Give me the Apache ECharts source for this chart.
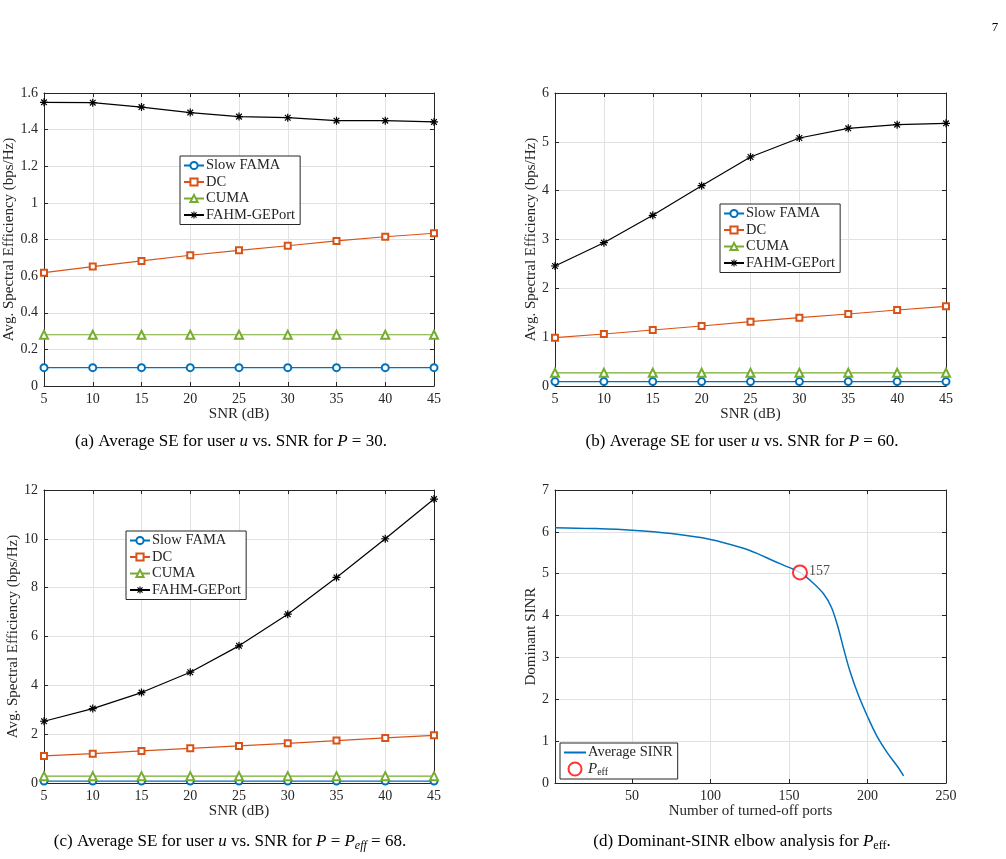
<!DOCTYPE html>
<html>
<head>
<meta charset="utf-8">
<script src="https://cdn.jsdelivr.net/npm/echarts@6/dist/echarts.min.js"></script>
<style>
  html, body { margin: 0; padding: 0; background: #fff; }
  #chart { width: 1006px; height: 859px; }
</style>
</head>
<body>
<div id="chart"></div>
<script>
// SNR sweep shared by (a), (b), (c)
var snr = [5, 10, 15, 20, 25, 30, 35, 40, 45];

// (a) P = 30
var slowFamaA = [0.10, 0.10, 0.10, 0.10, 0.10, 0.10, 0.10, 0.10, 0.10];
var dcA = [0.619, 0.652, 0.683, 0.714, 0.741, 0.766, 0.792, 0.815, 0.834];
var cumaA = [0.28, 0.28, 0.28, 0.28, 0.28, 0.28, 0.28, 0.28, 0.28];
var fahmA = [1.549, 1.547, 1.523, 1.493, 1.471, 1.465, 1.449, 1.449, 1.442];

// (b) P = 60
var slowFamaB = [0.09, 0.09, 0.09, 0.09, 0.09, 0.09, 0.09, 0.09, 0.09];
var dcB = [0.99, 1.065, 1.147, 1.229, 1.317, 1.399, 1.474, 1.556, 1.631];
var cumaB = [0.27, 0.27, 0.27, 0.27, 0.27, 0.27, 0.27, 0.27, 0.27];
var fahmB = [2.457, 2.935, 3.495, 4.102, 4.689, 5.078, 5.276, 5.352, 5.379];

// (c) P = Peff = 68
var slowFamaC = [0.08, 0.08, 0.08, 0.08, 0.08, 0.08, 0.08, 0.08, 0.08];
var dcC = [1.107, 1.203, 1.312, 1.421, 1.517, 1.626, 1.736, 1.845, 1.954];
var cumaC = [0.28, 0.28, 0.28, 0.28, 0.28, 0.28, 0.28, 0.28, 0.28];
var fahmC = [2.528, 3.048, 3.704, 4.537, 5.617, 6.915, 8.419, 10.004, 11.63];

// (d) dominant SINR vs number of turned-off ports
var sinrPorts = [1, 25, 50, 75, 100, 120, 130, 140, 150, 157, 165, 172, 177, 181, 185, 189, 194, 200, 206, 213, 219, 223];
var sinrValues = [6.10, 6.08, 6.04, 5.96, 5.82, 5.62, 5.48, 5.31, 5.15, 5.03, 4.79, 4.52, 4.20, 3.75, 3.18, 2.65, 2.12, 1.59, 1.12, 0.70, 0.40, 0.17];
var peffPort = 157;
var peffSinr = 5.03;
var portTicks = [50, 100, 150, 200, 250];

var seriesNames = ['Slow FAMA', 'DC', 'CUMA', 'FAHM-GEPort'];

var font = 'Liberation Serif';
var ink = '#262626';
var gridColor = '#e2e2e2';
var colors = ['#0072BD', '#D95319', '#77AC30', '#000000'];

function pairs(xs, ys) {
  return xs.map(function (x, i) { return [x, ys[i]]; });
}

// asterisk made of four bars (union)
function asteriskPath() {
  var h = 10, w = 1.5, d = '';
  [0, 45, 90, 135].forEach(function (deg) {
    var a = deg * Math.PI / 180, c = Math.cos(a), s = Math.sin(a);
    var pts = [[-w, -h], [w, -h], [w, h], [-w, h]].map(function (p) {
      return [(p[0] * c - p[1] * s).toFixed(2), (p[0] * s + p[1] * c).toFixed(2)];
    });
    d += 'M' + pts[0].join(',') + 'L' + pts[1].join(',') + 'L' + pts[2].join(',') + 'L' + pts[3].join(',') + 'Z';
  });
  return 'path://' + d;
}
var star = asteriskPath();

var grids = [
  {left: 44, top: 93, width: 390, height: 293},
  {left: 555, top: 93, width: 391, height: 293},
  {left: 44, top: 490, width: 390, height: 293},
  {left: 555, top: 490, width: 391, height: 293}
];

var xAxes = [], yAxes = [];
function addAxes(gi, xo, yo) {
  var tick = {show: true, inside: true, length: 4, lineStyle: {color: ink, width: 1}};
  var line = {show: true, onZero: false, lineStyle: {color: ink, width: 1}};
  var lbl = {color: ink, fontFamily: font, fontSize: 14};
  var nameStyle = {color: ink, fontFamily: font, fontSize: 15};
  var xb = {
    gridIndex: gi, type: 'value', position: 'bottom', min: xo.min, max: xo.max,
    axisLine: line, axisTick: Object.assign({}, tick),
    axisLabel: Object.assign({margin: 6}, lbl),
    splitLine: {show: true, lineStyle: {color: gridColor, width: 1}},
    name: xo.name, nameLocation: 'middle', nameGap: 21, nameTextStyle: nameStyle
  };
  if (xo.interval) xb.interval = xo.interval;
  if (xo.custom) {
    xb.axisTick.customValues = xo.custom;
    xb.axisLabel.customValues = xo.custom;
  }
  var xt = JSON.parse(JSON.stringify(xb));
  xt.position = 'top';
  xt.axisLabel = {show: false};
  xt.splitLine = {show: false};
  xt.name = '';
  var yl = {
    gridIndex: gi, type: 'value', position: 'left', min: yo.min, max: yo.max, interval: yo.interval,
    axisLine: line, axisTick: tick,
    axisLabel: Object.assign({margin: 6}, lbl),
    splitLine: {show: true, lineStyle: {color: gridColor, width: 1}},
    name: yo.name, nameLocation: 'middle', nameGap: yo.gap, nameTextStyle: nameStyle
  };
  var yr = JSON.parse(JSON.stringify(yl));
  yr.position = 'right';
  yr.axisLabel = {show: false};
  yr.splitLine = {show: false};
  yr.name = '';
  xAxes.push(xb, xt);
  yAxes.push(yl, yr);
}

var seName = 'Avg. Spectral Efficiency (bps/Hz)';
addAxes(0, {min: 5, max: 45, interval: 5, name: 'SNR (dB)'}, {min: 0, max: 1.6, interval: 0.2, name: seName, gap: 22});
addAxes(1, {min: 5, max: 45, interval: 5, name: 'SNR (dB)'}, {min: 0, max: 6, interval: 1, name: seName, gap: 13});
addAxes(2, {min: 5, max: 45, interval: 5, name: 'SNR (dB)'}, {min: 0, max: 12, interval: 2, name: seName, gap: 18});
addAxes(3, {min: 1, max: 250, custom: portTicks, name: 'Number of turned-off ports'}, {min: 0, max: 7, interval: 1, name: 'Dominant SINR', gap: 13});

var series = [];
function addPanel(gi, sets) {
  var symbols = ['emptyCircle', 'emptyRect', 'emptyTriangle', star];
  var sizes = [7, 6, 8, 8];
  sets.forEach(function (vals, k) {
    series.push({
      name: seriesNames[k], type: 'line', xAxisIndex: gi * 2, yAxisIndex: gi * 2,
      data: pairs(snr, vals), symbol: symbols[k], symbolSize: sizes[k],
      lineStyle: {color: colors[k], width: 1.2},
      itemStyle: {color: k === 3 ? '#000' : colors[k], borderColor: colors[k], borderWidth: k === 3 ? 0 : 1},
      emphasis: {disabled: true}, animation: false, z: 2 + k
    });
  });
}
addPanel(0, [slowFamaA, dcA, cumaA, fahmA]);
addPanel(1, [slowFamaB, dcB, cumaB, fahmB]);
addPanel(2, [slowFamaC, dcC, cumaC, fahmC]);

series.push({
  name: 'Average SINR', type: 'line', xAxisIndex: 6, yAxisIndex: 6,
  data: pairs(sinrPorts, sinrValues), symbol: 'none', smooth: 0.35,
  lineStyle: {color: '#0072BD', width: 1.5}, itemStyle: {color: '#0072BD'},
  emphasis: {disabled: true}, animation: false
});
series.push({
  name: 'Peff', type: 'scatter', xAxisIndex: 6, yAxisIndex: 6,
  data: [[peffPort, peffSinr]], symbol: 'emptyCircle', symbolSize: 14,
  itemStyle: {color: '#ff0000', borderColor: '#ff0000', borderWidth: 1.3},
  label: {show: true, position: 'right', distance: 1, formatter: String(peffPort),
    color: ink, fontFamily: font, fontSize: 14, offset: [0, -1]},
  emphasis: {disabled: true}, animation: false, z: 5
});

function seLegend(left, top) {
  return {
    orient: 'vertical', left: left, top: top, data: seriesNames,
    itemWidth: 20, itemHeight: 9, itemGap: 1.5,
    padding: [2, 5, 2, 3],
    backgroundColor: '#fff', borderColor: ink, borderWidth: 1, borderRadius: 0,
    textStyle: {color: ink, fontFamily: font, fontSize: 14.5, padding: [0, 0, 0, -3]},
    selectedMode: false
  };
}
var legends = [
  seLegend(180, 156),
  seLegend(720, 204),
  seLegend(126, 531),
  {
    orient: 'vertical', left: 560, top: 743,
    data: [{name: 'Average SINR', itemStyle: {opacity: 0}}, 'Peff'],
    itemWidth: 22, itemHeight: 13, itemGap: 1.5,
    padding: [2, 5, 2, 3],
    backgroundColor: '#fff', borderColor: ink, borderWidth: 1, borderRadius: 0,
    selectedMode: false,
    formatter: function (n) { return n === 'Peff' ? '{i|P}{s|eff}' : n; },
    textStyle: {color: ink, fontFamily: font, fontSize: 14.5, padding: [0, 0, 0, -3],
      rich: {
        i: {fontFamily: font, fontStyle: 'italic', fontSize: 15, color: ink},
        s: {fontFamily: font, fontSize: 10, color: ink, padding: [6, 0, 0, 0]}
      }}
  }
];

var capRich = {
  n: {fontFamily: font, fontSize: 17, color: '#000'},
  i: {fontFamily: font, fontSize: 17, fontStyle: 'italic', color: '#000'},
  s: {fontFamily: font, fontSize: 12, fontStyle: 'italic', color: '#000', padding: [7, 0, 0, 0]},
  r: {fontFamily: font, fontSize: 12, color: '#000', padding: [7, 0, 0, 0]}
};
function caption(x, y, text) {
  return {type: 'text', x: x, y: y, silent: true,
    style: {text: text, align: 'center', verticalAlign: 'middle', rich: capRich}};
}

var chart = echarts.init(document.getElementById('chart'), null, {renderer: 'canvas'});
chart.setOption({
  backgroundColor: '#fff',
  animation: false,
  grid: grids,
  xAxis: xAxes,
  yAxis: yAxes,
  legend: legends,
  series: series,
  graphic: [
    {type: 'text', x: 995, y: 28, silent: true,
      style: {text: '7', align: 'center', verticalAlign: 'middle', fontFamily: font, fontSize: 13, fill: '#000'}},
    caption(231, 442, '{n|(a) Average SE for user }{i|u}{n| vs. SNR for }{i|P}{n| = 30.}'),
    caption(742, 442, '{n|(b) Average SE for user }{i|u}{n| vs. SNR for }{i|P}{n| = 60.}'),
    caption(230, 842, '{n|(c) Average SE for user }{i|u}{n| vs. SNR for }{i|P}{n| = }{i|P}{s|eff}{n| = 68.}'),
    caption(742, 842, '{n|(d) Dominant-SINR elbow analysis for }{i|P}{r|eff}{n|.}')
  ]
});
</script>
</body>
</html>
